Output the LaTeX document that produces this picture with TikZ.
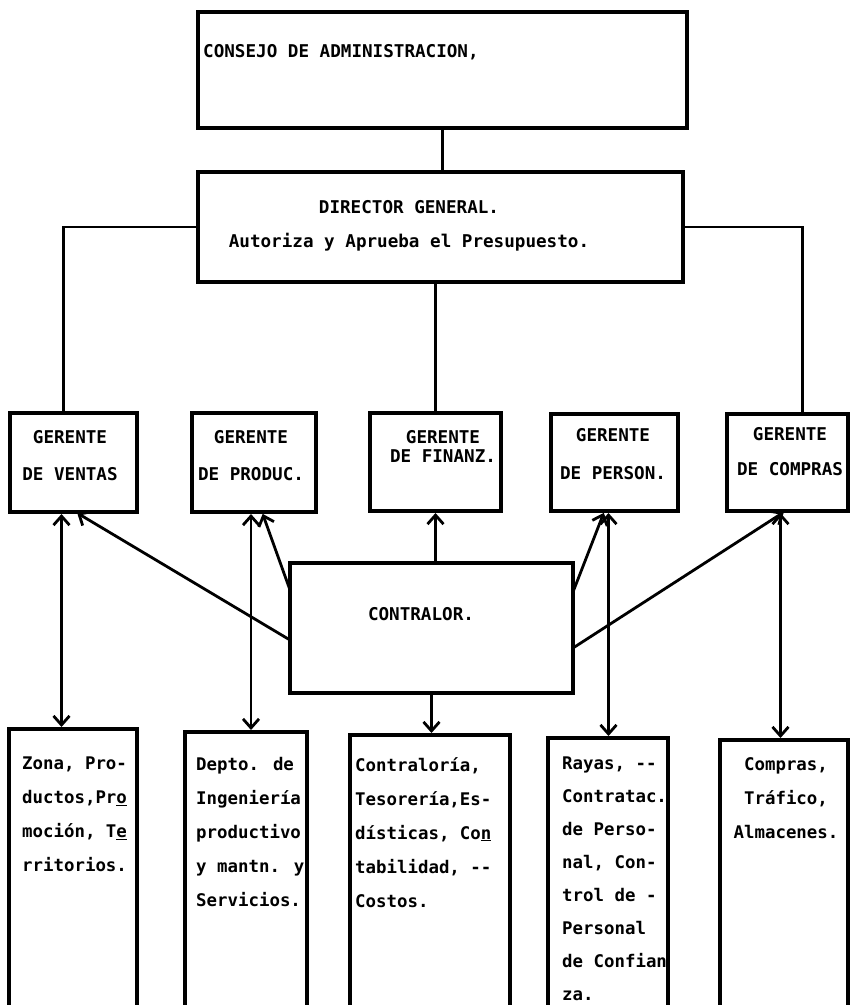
\documentclass[tikz,border=0pt]{standalone}
\usepackage{fontspec}
\newfontfamily\tw{DejaVu Sans Mono}
\usetikzlibrary{arrows.meta}
\begin{document}
\begin{tikzpicture}[x=1pt,y=-1pt,
  box/.style={draw, line width=3.2pt, anchor=north west, inner sep=0pt, outer sep=0pt},
  lbl/.style={font=\tw\bfseries\fontsize{17.6}{#1}\selectfont, inner sep=0pt, align=center},
  lbl/.default=37,
  para/.style={font=\tw\bfseries\fontsize{17.4}{#1}\selectfont, inner sep=0pt, align=left, anchor=north west},
  para/.default=34,
  conn/.style={line width=2.8pt},
  tip/.style={-{Straight Barb[length=9pt,width=16pt]}, shorten >=2pt},
  both/.style={{Straight Barb[length=9pt,width=16pt]}-{Straight Barb[length=9pt,width=16pt]}, shorten >=2pt, shorten <=2pt}
]
\useasboundingbox (0,0) rectangle (850,1005);
\clip (0,0) rectangle (850,1005);
\fill[white] (0,0) rectangle (850,1005);

% boxes
\node[box, minimum width=489pt, minimum height=116pt] (consejo) at (198,12) {};
\node[box, minimum width=485pt, minimum height=110pt] (director) at (198,172) {};
\node[box, minimum width=127pt, minimum height=99pt] (ventas) at (10,413) {};
\node[box, minimum width=124pt, minimum height=99pt] (produc) at (192,413) {};
\node[box, minimum width=131pt, minimum height=98pt] (finanz) at (370,413) {};
\node[box, minimum width=127pt, minimum height=97pt] (person) at (551,414) {};
\node[box, minimum width=121pt, minimum height=97pt] (compras) at (727,414) {};
\node[box, minimum width=283pt, minimum height=130pt] (contralor) at (290,563) {};
\node[box, minimum width=128pt, minimum height=320pt] (low1) at (9,729) {};
\node[box, minimum width=122pt, minimum height=320pt] (low2) at (185,732) {};
\node[box, minimum width=160pt, minimum height=320pt] (low3) at (350,735) {};
\node[box, minimum width=120pt, minimum height=320pt] (low4) at (548,738) {};
\node[box, minimum width=128pt, minimum height=320pt] (low5) at (720,740) {};

% texts
\node[lbl, anchor=west] (tconsejo) at (203,52) {CONSEJO DE ADMINISTRACION,};
\node[lbl=34] (tdirector) at (409,226) {DIRECTOR GENERAL.\\Autoriza y Aprueba el Presupuesto.};
\node[lbl] (tventas) at (70,456) {GERENTE\\DE VENTAS};
\node[lbl] (tproduc) at (251,456) {GERENTE\\DE PRODUC.};
\node[lbl=19] (tfinanz) at (443,446) {GERENTE\\DE FINANZ.};
\node[lbl=38] (tperson) at (613,454) {GERENTE\\DE PERSON.};
\node[lbl=35] (tcompras) at (790,452) {GERENTE\\DE COMPRAS};
\node[lbl] (tcontralor) at (421,614) {CONTRALOR.};

\node[para] (tlow1) at (22,757) {Zona, Pro-\\ductos,Pr\underline{o}\\moción, T\underline{e}\\rritorios.};
\node[para] (tlow2) at (196,757) {Depto. de\\Ingeniería\\productivo\\y mantn. y\\Servicios.};
\node[para] (tlow3) at (355,757) {Contraloría,\\Tesorería,Es-\\dísticas, Co\underline{n}\\tabilidad, --\\Costos.};
\node[para=33] (tlow4) at (562,757) {Rayas, --\\Contratac.\\de Perso-\\nal, Con-\\trol de -\\Personal\\de Confian\\za.};
\node[para, anchor=north, align=center] (tlow5) at (786,757) {Compras,\\Tráfico,\\Almacenes.};

% connectors from top
\draw[conn] (consejo.south) -- (consejo.south |- director.north);
\draw[conn] (director.west) -| ([xshift=-10pt]ventas.north);
\draw[conn] (director.east) -| ([xshift=15pt]compras.north);
\draw[conn] (director.south -| finanz.north) -- (finanz.north);

% contralor arrows
\draw[conn,tip] (contralor.north -| finanz.south) -- (finanz.south);
\draw[conn,tip] ([yshift=-12pt]contralor.west) -- ([xshift=2pt]ventas.south);
\draw[conn,tip] ([yshift=-27pt]contralor.north west) -- ([xshift=8pt]produc.south);
\draw[conn,tip] ([yshift=-29pt]contralor.north east) -- ([xshift=-10pt]person.south);
\draw[conn,tip] ([yshift=-85pt]contralor.north east) -- ([xshift=-2pt]compras.south);

% vertical links to lower boxes
\draw[conn,both] ([xshift=-12pt]ventas.south) -- ([xshift=-12pt]ventas.south |- low1.north);
\draw[conn,both] ([xshift=-3pt]produc.south) -- ([xshift=-3pt]produc.south |- low2.north);
\draw[conn,tip] (contralor.south) -- (contralor.south |- low3.north);
\draw[conn,both] ([xshift=-6pt]person.south) -- ([xshift=-6pt]person.south |- low4.north);
\draw[conn,both] ([xshift=-7pt]compras.south) -- ([xshift=-7pt]compras.south |- low5.north);
\end{tikzpicture}
\end{document}
